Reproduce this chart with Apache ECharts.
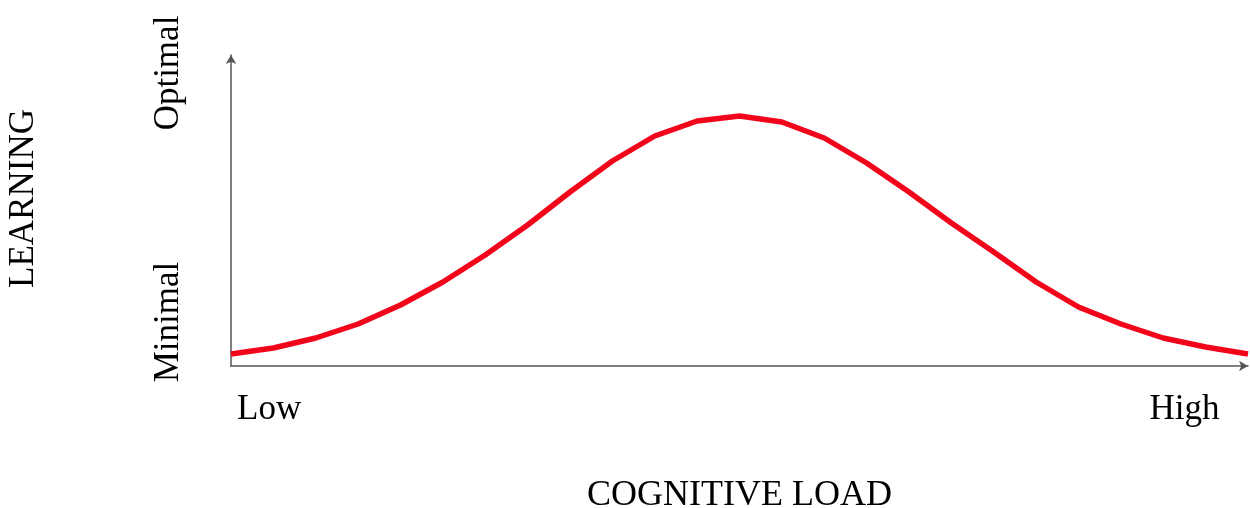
<!DOCTYPE html>
<html>
<head>
<meta charset="utf-8">
<script src="https://cdn.jsdelivr.net/npm/echarts@6/dist/echarts.min.js"></script>
<style>html,body{margin:0;padding:0;background:#fff}#c{width:1250px;height:508px}</style>
</head>
<body>
<div id="c"></div>
<script>
// Cognitive load steps (0 = Low ... 24 = High)
const loadSteps = [0,1,2,3,4,5,6,7,8,9,10,11,12,13,14,15,16,17,18,19,20,21,22,23,24];
// Learning level (arbitrary units above the axis)
const learning = [12,18,28,42,61,84,111,141,174,205,230,245,250,244,228,203,174,143,114,84,59,42,28,19,12];
// Tick labels and where they sit on each axis
const xTickLabels = ['Low', 'High'];
const xTickPositions = [0.9, 22.5];
const yTickLabels = ['Minimal', 'Optimal'];
const yTickPositions = [44, 293];
const xName = 'COGNITIVE LOAD';
const yName = 'LEARNING';

const serif = '"Liberation Serif", "DejaVu Serif", serif';
const chart = echarts.init(document.getElementById('c'));
chart.setOption({
  animation: false,
  grid: { left: 231, right: 2, top: 55, bottom: 142, outerBoundsMode: 'none', containLabel: false },
  xAxis: {
    type: 'value', min: 0, max: 24,
    name: xName, nameLocation: 'middle', nameGap: 112,
    nameTextStyle: { fontFamily: serif, fontSize: 36, color: '#000' },
    axisLine: { lineStyle: { color: '#555', width: 1.5 }, symbol: ['none', 'arrow'], symbolSize: [8, 9] },
    axisTick: { show: false },
    splitLine: { show: false },
    axisLabel: {
      customValues: xTickPositions, margin: 26,
      fontFamily: serif, fontSize: 35, color: '#000',
      formatter: function (v) { return xTickLabels[xTickPositions.indexOf(v)] || ''; }
    }
  },
  yAxis: {
    type: 'value', min: 0, max: 311,
    name: yName, nameLocation: 'middle', nameGap: 190, nameRotate: 90,
    nameTextStyle: { fontFamily: serif, fontSize: 35, color: '#000', padding: [0, 0, 0, 24] },
    axisLine: { show: true, lineStyle: { color: '#555', width: 1.5 }, symbol: ['none', 'arrow'], symbolSize: [8, 9] },
    axisTick: { show: false },
    splitLine: { show: false },
    axisLabel: {
      customValues: yTickPositions, margin: 45, rotate: 90,
      fontFamily: serif, fontSize: 35, color: '#000',
      formatter: function (v) { return yTickLabels[yTickPositions.indexOf(v)] || ''; }
    }
  },
  series: [{
    type: 'line',
    data: loadSteps.map((x, i) => [x, learning[i]]),
    showSymbol: false,
    smooth: false,
    lineStyle: { color: '#f2051b', width: 5.5 }
  }]
});
</script>
</body>
</html>
